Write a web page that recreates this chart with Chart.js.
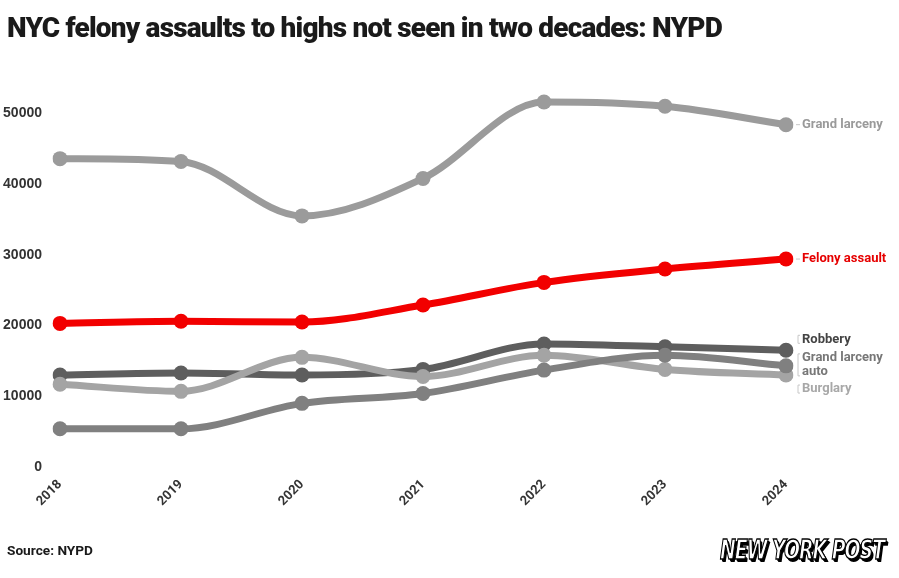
<!DOCTYPE html>
<html>
<head>
<meta charset="utf-8">
<script src="https://cdn.jsdelivr.net/npm/chart.js@4/dist/chart.umd.min.js"></script>
<style>
  html, body { margin: 0; padding: 0; background: #fff; }
  #wrap { position: relative; width: 899px; height: 578px; overflow: hidden; }
  #chart { position: absolute; left: 0; top: 0; }
  .txt { position: absolute; white-space: nowrap; transform-origin: 0 50%; }
  #title { left: 7px; top: 27px; font: 900 28px Roboto, sans-serif; color: #1a1a1a; letter-spacing: -0.8px; }
  #source { left: 7px; top: 550px; font: 700 13px Roboto, sans-serif; color: #1a1a1a; }
  #logo { left: 720px; top: 549px; font: italic 900 27px "DejaVu Sans", sans-serif; color: #fff;
          -webkit-text-stroke: 1.4px #000; text-shadow: 2px 2px 0 #000, 3px 3px 0 #000; letter-spacing: -1.5px; }
</style>
</head>
<body>
<div id="wrap">
  <canvas id="chart" width="899" height="578"></canvas>
  <div id="title" class="txt" data-w="715">NYC felony assaults to highs not seen in two decades: NYPD</div>
  <div id="source" class="txt" data-w="86">Source: NYPD</div>
  <div id="logo" class="txt" data-w="164">NEW YORK POST</div>
</div>
<script>
const years = ['2018', '2019', '2020', '2021', '2022', '2023', '2024'];
const grandLarceny = [43600, 43200, 35500, 40800, 51600, 51000, 48400];
const felonyAssault = [20300, 20600, 20500, 22900, 26100, 28000, 29400];
const robbery = [13000, 13300, 13000, 13800, 17400, 17000, 16500];
const burglary = [11700, 10700, 15500, 12800, 15800, 13800, 13000];
const grandLarcenyAuto = [5400, 5400, 9000, 10400, 13700, 15800, 14300];
const yTicks = [0, 10000, 20000, 30000, 40000, 50000];

// squeeze the html texts to the widths seen in the picture
document.querySelectorAll('.txt').forEach(el => {
    const target = +el.dataset.w;
    const w = el.getBoundingClientRect().width;
    el.style.transform = `translateY(-50%) scaleX(${target / w})`;
});

// labels at the end of each line
const endLabels = {
    id: 'endLabels',
    afterDatasetsDraw(chart) {
        const ctx = chart.ctx;
        ctx.save();
        ctx.font = '700 13px Roboto, sans-serif';
        ctx.textBaseline = 'middle';
        chart.data.datasets.forEach((ds, i) => {
            const meta = chart.getDatasetMeta(i);
            const pt = meta.data[meta.data.length - 1];
            const x = pt.x + 16;
            const y = pt.y + ds.labelShift;
            ctx.strokeStyle = '#c8c8c8';
            ctx.lineWidth = 1;
            ctx.beginPath();
            if (ds.labelShift === 0) {
                ctx.moveTo(pt.x + 10, y);
                ctx.lineTo(pt.x + 14, y);
            } else {
                const h = ds.labelLines.length * 14 / 2;
                ctx.moveTo(x - 2, y - h + 3);
                ctx.lineTo(x - 4, y - h + 3);
                ctx.lineTo(x - 4, y + h - 3);
                ctx.lineTo(x - 2, y + h - 3);
            }
            ctx.stroke();
            ctx.fillStyle = ds.labelColor;
            const n = ds.labelLines.length;
            ds.labelLines.forEach((line, k) => {
                ctx.fillText(line, x, y + (k - (n - 1) / 2) * 14);
            });
        });
        ctx.restore();
    }
};

const mk = (label, data, color, order, labelColor, labelLines, labelShift) => ({
    label, data,
    borderColor: color,
    backgroundColor: color,
    pointBackgroundColor: color,
    pointBorderWidth: 0,
    pointRadius: 7.5,
    borderWidth: 7,
    cubicInterpolationMode: 'monotone',
    order, labelColor, labelLines, labelShift,
});

new Chart(document.getElementById('chart'), {
    type: 'line',
    data: {
        labels: years,
        datasets: [
            mk('Grand larceny', grandLarceny, '#9b9b9b', 5, '#9a9a9a', ['Grand larceny'], 0),
            mk('Felony assault', felonyAssault, '#f20000', 0, '#e60000', ['Felony assault'], 0),
            mk('Robbery', robbery, '#5e5e5e', 4, '#444444', ['Robbery'], -11),
            mk('Grand larceny auto', grandLarcenyAuto, '#808080', 2, '#777777', ['Grand larceny', 'auto'], -1),
            mk('Burglary', burglary, '#a4a4a4', 3, '#a8a8a8', ['Burglary'], 14),
        ],
    },
    options: {
        responsive: false,
        animation: false,
        layout: { padding: { top: 78, right: 113, bottom: 50, left: 0 } },
        plugins: {
            legend: { display: false },
            tooltip: { enabled: false },
        },
        scales: {
            x: {
                grid: { display: false },
                border: { display: false },
                ticks: {
                    color: '#333',
                    font: { family: 'Roboto, sans-serif', size: 13, weight: '700' },
                    maxRotation: 45,
                    minRotation: 45,
                    padding: 2,
                },
                afterFit: (s) => { s.height = 61; },
            },
            y: {
                min: 0,
                max: 55000,
                grid: { display: false },
                border: { display: false },
                afterBuildTicks: (s) => { s.ticks = yTicks.map(v => ({ value: v })); },
                ticks: {
                    color: '#333',
                    font: { family: '"Liberation Sans", Arial, sans-serif', size: 14, weight: '700' },
                    padding: 10,
                    callback: (v) => String(v),
                },
                afterFit: (s) => { s.width = 60; },
            },
        },
    },
    plugins: [endLabels],
});
</script>
</body>
</html>
